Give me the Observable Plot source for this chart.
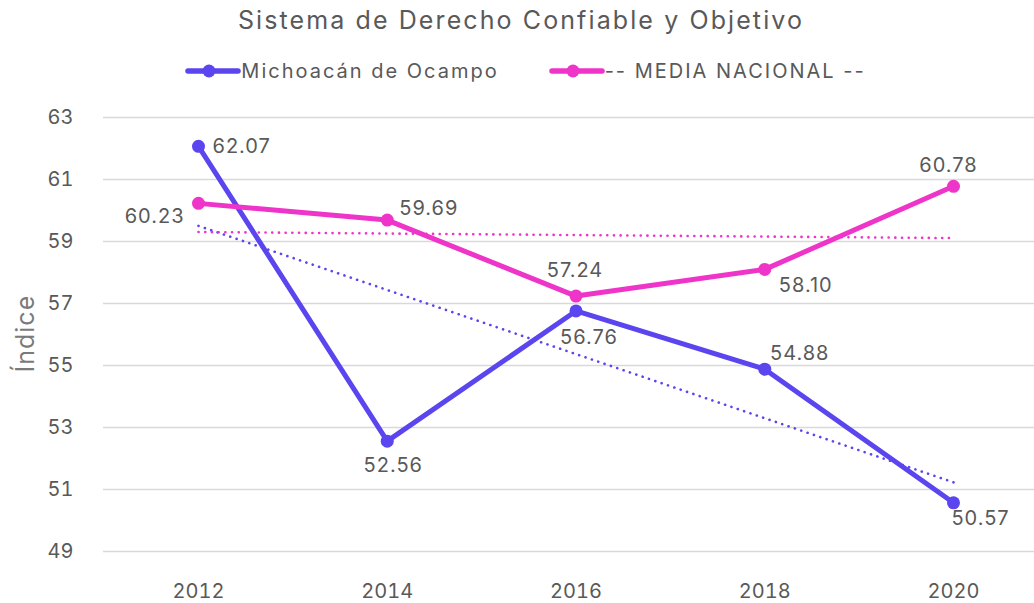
<!DOCTYPE html>
<html>
<head>
<meta charset="utf-8">
<script src="https://cdn.jsdelivr.net/npm/d3@7"></script>
<script src="https://cdn.jsdelivr.net/npm/@observablehq/plot@0.6"></script>
<style>
  body { margin: 0; background: #fff; font-family: Inter, "Noto Sans", sans-serif; }
  #wrap { position: relative; width: 1034px; height: 603px; overflow: hidden; }
  #title { position: absolute; top: 0; left: 0; width: 1042px; height: 40px; line-height: 40px; text-align: center; font-size: 25px; color: #595959; letter-spacing: 2.1px; }
  #legend { position: absolute; top: 58px; left: 0; width: 1051px; height: 26px; display: flex; justify-content: center; align-items: center; font-size: 20px; color: #595959; letter-spacing: 2px; }
  .item { display: flex; align-items: center; margin: 0 25px; }
  .item svg { display: block; }
  #chart { position: absolute; top: 95px; left: 0; }
  #chart g[aria-label="text"] text { letter-spacing: 1px; }
</style>
</head>
<body>
<div id="wrap">
  <div id="title">Sistema de Derecho Confiable y Objetivo</div>
  <div id="legend"></div>
  <div id="chart"></div>
</div>
<script>
const years = [2012, 2014, 2016, 2018, 2020];
const seriesNames = ["Michoacán de Ocampo", "-- MEDIA NACIONAL --"];
const michoacan = [62.07, 52.56, 56.76, 54.88, 50.57];
const nacional = [60.23, 59.69, 57.24, 58.10, 60.78];
const yTicks = [49, 51, 53, 55, 57, 59, 61, 63];
const colors = ["#5b45ee", "#ee34c9"];

const data = [
  ...years.map((yr, i) => ({year: yr, value: michoacan[i], series: seriesNames[0]})),
  ...years.map((yr, i) => ({year: yr, value: nacional[i], series: seriesNames[1]}))
];

// legend
const legend = document.getElementById("legend");
seriesNames.forEach((name, i) => {
  const item = document.createElement("div");
  item.className = "item";
  item.innerHTML = `<svg width="56" height="16"><line x1="3" y1="8" x2="53" y2="8" stroke="${colors[i]}" stroke-width="5.5" stroke-linecap="round"/><circle cx="24" cy="8" r="6.5" fill="${colors[i]}"/></svg><span>${name}</span>`;
  legend.appendChild(item);
});

function label(si, yr, dx, dy, anchor) {
  return Plot.text(data.filter(d => d.series === seriesNames[si] && d.year === yr), {
    x: "year", y: "value", text: d => d.value.toFixed(2),
    dx, dy, textAnchor: anchor, fill: "#595959", fontSize: 20
  });
}

const plot = Plot.plot({
  width: 1034,
  height: 508,
  marginLeft: 103,
  marginRight: 0,
  marginTop: 22,
  marginBottom: 52,
  style: { fontFamily: "Inter, 'Noto Sans', sans-serif", background: "white", overflow: "visible" },
  x: { domain: [2012, 2020], range: [198, 953], ticks: years, tickFormat: d => String(d), tickSize: 0, tickPadding: 32, label: null },
  y: { domain: [49, 63], range: [456, 22], ticks: yTicks, tickSize: 0, tickPadding: 30, label: null },
  color: { domain: seriesNames, range: colors },
  marks: [
    Plot.ruleY(yTicks, { stroke: "#d9d9d9", strokeWidth: 1.5 }),
    Plot.axisY({ ticks: yTicks, tickSize: 0, tickPadding: 30, fontSize: 20, color: "#595959", label: null }),
    Plot.axisX({ ticks: years, tickFormat: d => String(d), tickSize: 0, tickPadding: 32, fontSize: 20, color: "#595959", label: null }),
    Plot.text(["Índice"], { frameAnchor: "left", dx: -78, dy: 38, rotate: -90, fontSize: 25, fill: "#7a7a7a" }),
    Plot.linearRegressionY(data, { x: "year", y: "value", stroke: "series", ci: 0, strokeWidth: 2.6, strokeDasharray: "0.1 6.6", strokeLinecap: "round" }),
    Plot.line(data, { x: "year", y: "value", stroke: "series", strokeWidth: 5, strokeLinejoin: "round" }),
    Plot.dot(data, { x: "year", y: "value", fill: "series", r: 6.5 }),
    label(0, 2012, 14, 0, "start"),
    label(1, 2012, -14, 13, "end"),
    label(1, 2014, 12, -12, "start"),
    label(1, 2016, -1, -25, "middle"),
    label(0, 2016, 13, 27, "middle"),
    label(1, 2018, 41, 16, "middle"),
    label(0, 2018, 35, -16, "middle"),
    label(0, 2014, 6, 24, "middle"),
    label(1, 2020, -5, -21, "middle"),
    label(0, 2020, 27, 16, "middle")
  ]
});
document.getElementById("chart").appendChild(plot);
</script>
</body>
</html>
